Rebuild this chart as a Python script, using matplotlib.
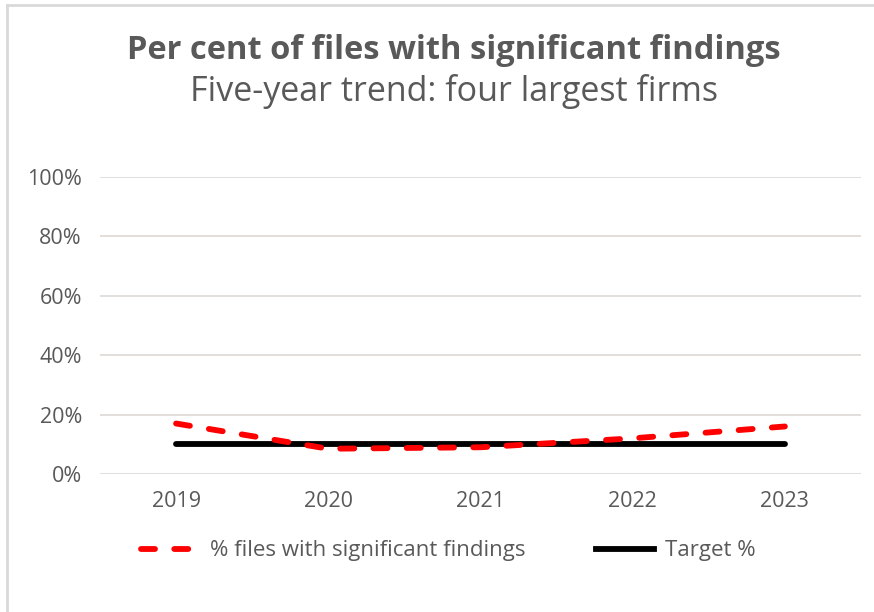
import matplotlib.pyplot as plt
from matplotlib.lines import Line2D

years = ["2019", "2020", "2021", "2022", "2023"]
findings_pct = [0.17, 0.085, 0.09, 0.12, 0.16]
target_pct = [0.10, 0.10, 0.10, 0.10, 0.10]
y_ticks = [0.0, 0.2, 0.4, 0.6, 0.8, 1.0]

plt.rcParams["font.family"] = ["Open Sans", "DejaVu Sans"]
text_color = "#595959"
dash = (0, (2.4, 3.3))

fig = plt.figure(figsize=(8.74, 6.12), dpi=100)
ax = fig.add_axes([0.1144, 0.2255, 0.8707, 0.4853])

x = list(range(len(years)))
ax.plot(x, target_pct, color="black", linewidth=4.2, solid_capstyle="round",
        label="Target %", zorder=3)
ax.plot(x, findings_pct, color="#ff0000", linewidth=4.2, linestyle=dash,
        dash_capstyle="round", label="% files with significant findings", zorder=4)

ax.set_xlim(-0.5, len(years) - 0.5)
ax.set_ylim(0, 1.0)
ax.set_yticks(y_ticks)
ax.set_yticklabels([f"{int(round(v * 100))}%" for v in y_ticks])
ax.set_xticks(x)
ax.set_xticklabels(years)
ax.tick_params(axis="both", length=0, labelsize=15.5, colors=text_color)
ax.tick_params(axis="y", pad=13)
ax.tick_params(axis="x", pad=12)
ax.grid(axis="y", color="#dcd8d4", linewidth=1.2)
ax.set_axisbelow(True)
for s in ax.spines.values():
    s.set_visible(False)

# Титулы
fig.text(0.519, 0.917, "Per cent of files with significant findings", ha="center",
         va="center", fontsize=23.5, fontweight="bold", color=text_color)
fig.text(0.519, 0.851, "Five-year trend: four largest firms", ha="center",
         va="center", fontsize=24.5, color=text_color)

# Легенда
handles = [
    Line2D([0], [0], color="#ff0000", linewidth=4.2, linestyle=dash,
           dash_capstyle="round"),
    Line2D([0], [0], color="black", linewidth=4.2),
]
fig.legend(handles, ["% files with significant findings", "Target %"],
           loc="center", bbox_to_anchor=(0.513, 0.1), ncol=2, frameon=False,
           fontsize=16, labelcolor=text_color, handlelength=2.6,
           handletextpad=0.5, columnspacing=3.2)

# Рамка слева и сверху
fig.add_artist(Line2D([0.008, 0.008], [0, 0.992], color="#d9d9d9", linewidth=2,
                      transform=fig.transFigure))
fig.add_artist(Line2D([0.008, 1], [0.992, 0.992], color="#d9d9d9", linewidth=2,
                      transform=fig.transFigure))

plt.savefig("out.png", dpi=100)
